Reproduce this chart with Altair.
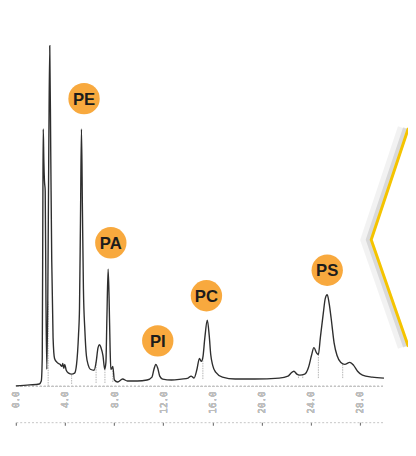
import altair as alt
import pandas as pd

# Chromatogram trace (retention time in min, detector signal in arbitrary units)
trace_t = [0.00, 1.12, 1.91, 2.07, 2.15, 2.20, 2.23, 2.28, 2.33, 2.39, 2.45, 2.52, 2.60, 2.68, 2.76,
           2.84, 2.92, 3.03, 3.15, 3.35, 3.59, 3.75, 3.82, 3.90, 3.98, 4.10, 4.30, 4.54, 4.78, 4.94,
           5.10, 5.18, 5.26, 5.34, 5.42, 5.50, 5.62, 5.74, 5.90, 6.06, 6.37, 6.53, 6.69, 6.81, 6.93,
           7.09, 7.23, 7.33, 7.41, 7.51, 7.59, 7.67, 7.73, 7.81, 7.89, 8.02, 8.29, 8.69, 9.08, 9.88,
           10.68, 11.08, 11.24, 11.39, 11.55, 11.71, 11.95, 12.67, 13.47, 14.02, 14.26, 14.50, 14.74,
           14.94, 15.10, 15.22, 15.38, 15.58, 15.74, 15.86, 16.02, 16.26, 16.81, 17.85, 19.44, 21.43,
           22.15, 22.39, 22.63, 22.87, 23.11, 23.51, 23.82, 24.06, 24.26, 24.46, 24.62, 24.78, 25.02,
           25.18, 25.34, 25.50, 25.66, 25.90, 26.14, 26.45, 26.77, 27.17, 27.49, 27.81, 28.21, 29.00,
           29.96]
trace_s = [0, 1, 2, 5, 29, 189, 262, 229, 209, 199, 89, 17, 89, 239, 347,
           239, 129, 49, 28, 24, 22, 20, 23, 18, 22, 16, 13, 12, 13, 22,
           52, 79, 169, 262, 179, 99, 56, 31, 21, 17, 16, 24, 39, 42, 39,
           31, 17, 24, 69, 119, 89, 39, 17, 18, 20, 6, 4, 7, 5, 5,
           6, 9, 17, 22, 18, 10, 7, 6, 7, 8, 10, 8, 17,
           28, 25, 29, 49, 67, 51, 32, 21, 14, 9, 7, 7, 8,
           10, 13, 15, 12, 11, 12, 19, 31, 39, 34, 32, 49, 74,
           89, 93, 84, 69, 44, 31, 24, 22, 24, 21, 15, 11, 9,
           8]

# Integration drop lines (time, bottom, top)
drop_t = [2.63, 4.54, 6.53, 7.25, 7.89, 15.22, 23.00, 23.35, 24.62, 26.60]
drop_lo = [0, 2, 3, 3, 4, 7, 8, 8, 8, 8]
drop_hi = [86, 12, 24, 18, 20, 28, 11, 12, 32, 23]

# Peak labels
peak_names = ["PE", "PA", "PI", "PC", "PS"]
peak_label_t = [5.55, 7.73, 11.55, 15.51, 25.34]
peak_label_s = [293, 146, 46, 92, 118]

# Axis ticks
tick_values = [0, 4, 8, 12, 16, 20, 24, 28]

# Callout chevron on the right edge
callout_t = [31.95, 28.92, 31.95]
callout_s = [263, 149, 40]

trace_df = pd.DataFrame({"t": trace_t, "s": trace_s})
drop_df = pd.DataFrame({"t": drop_t, "lo": drop_lo, "hi": drop_hi})
label_df = pd.DataFrame({"name": peak_names, "t": peak_label_t, "s": peak_label_s})
tick_df = pd.DataFrame({"t": tick_values})
callout_df = pd.DataFrame({"t": callout_t, "s": callout_s, "o": [0, 1, 2]})

xscale = alt.Scale(domain=[0, 30], nice=False, zero=False)
yscale = alt.Scale(domain=[0, 360], nice=False, zero=False)

axis1 = alt.Axis(
    orient="bottom", values=tick_values, format=".1f", labelAngle=270,
    labelColor="#bdbdbd", labelFont="DejaVu Sans Mono", labelFontSize=9.5,
    labelPadding=5, ticks=False, grid=False, domainColor="#c4c4c4",
    domainDash=[2, 2], domainWidth=1, title=None,
)
axis2 = alt.Axis(
    orient="bottom", offset=37, values=tick_values, labels=False, ticks=True,
    tickSize=3, tickColor="#777777", tickWidth=1.2, grid=False,
    domainColor="#c4c4c4", domainDash=[2, 2], domainWidth=1, title=None,
)

drops = alt.Chart(drop_df).mark_rule(color="#a0a0a0", strokeWidth=0.8, strokeDash=[1.5, 1]).encode(
    x=alt.X("t:Q", scale=xscale, axis=axis1),
    y=alt.Y("lo:Q", scale=yscale, axis=None),
    y2="hi:Q",
)

trace = alt.Chart(trace_df).mark_line(color="#2e2e2e", strokeWidth=1.4, interpolate="monotone").encode(
    x=alt.X("t:Q", scale=xscale, axis=axis1),
    y=alt.Y("s:Q", scale=yscale, axis=None),
)

axis_row = alt.Chart(tick_df).mark_point(opacity=0).encode(
    x=alt.X("t:Q", scale=xscale, axis=axis2),
    y=alt.value(0),
)

circles = alt.Chart(label_df).mark_point(shape="circle", filled=True, size=1024, color="#F8A93E", opacity=1).encode(
    x=alt.X("t:Q", scale=xscale, axis=axis1),
    y=alt.Y("s:Q", scale=yscale, axis=None),
)
texts = alt.Chart(label_df).mark_text(
    font="Liberation Sans", fontWeight="bold", fontSize=17, color="#1c1c1c",
    align="center", baseline="middle", dy=1,
).encode(
    x=alt.X("t:Q", scale=xscale, axis=axis1),
    y=alt.Y("s:Q", scale=yscale, axis=None),
    text="name:N",
)

shadow1 = alt.Chart(callout_df).mark_line(color="#000000", opacity=0.05, strokeWidth=12, xOffset=-5, strokeJoin="miter").encode(
    x=alt.X("t:Q", scale=xscale, axis=axis1), y=alt.Y("s:Q", scale=yscale, axis=None), order="o:Q",
)
shadow2 = alt.Chart(callout_df).mark_line(color="#000000", opacity=0.10, strokeWidth=5, xOffset=-3, strokeJoin="miter").encode(
    x=alt.X("t:Q", scale=xscale, axis=axis1), y=alt.Y("s:Q", scale=yscale, axis=None), order="o:Q",
)
callout = alt.Chart(callout_df).mark_line(color="#F5C400", strokeWidth=3, strokeJoin="miter").encode(
    x=alt.X("t:Q", scale=xscale, axis=axis1), y=alt.Y("s:Q", scale=yscale, axis=None), order="o:Q",
)

chart = alt.layer(
    shadow1, shadow2, callout, drops, trace, circles, texts, axis_row
).resolve_axis(x="independent").properties(
    width=376, height=360,
    padding={"left": 8, "top": 21, "right": 24, "bottom": 67},
    autosize=alt.AutoSizeParams(type="none"),
    background="white",
).configure_view(stroke=None)

chart.save("out.html", embed_options={"renderer": "svg", "actions": False})
